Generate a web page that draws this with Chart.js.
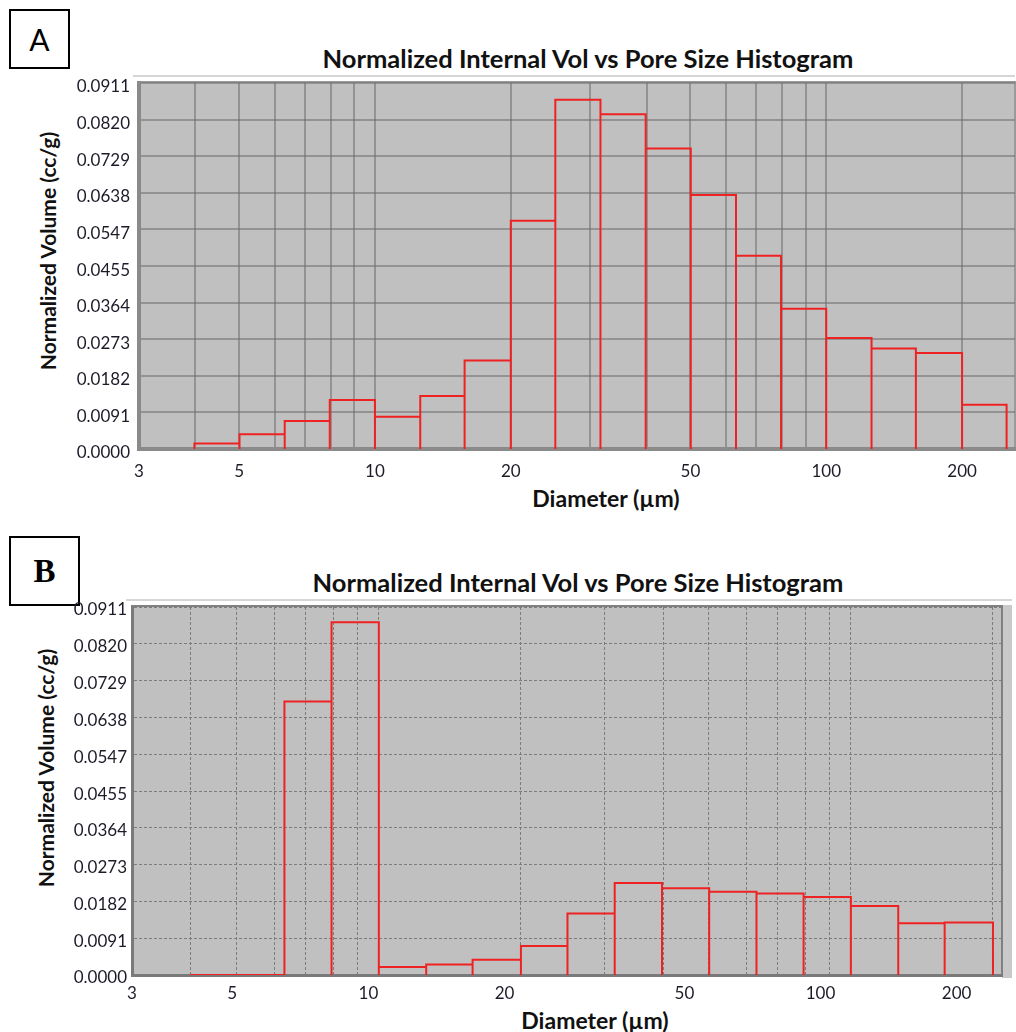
<!DOCTYPE html>
<html lang="en">
<head>
<meta charset="UTF-8">
<title>Normalized Internal Vol vs Pore Size Histogram</title>
<script src="https://cdn.jsdelivr.net/npm/chart.js"></script>
<style>
  body { margin: 0; background: #fff; font-family: Lato, sans-serif; }
  #page { position: relative; width: 1016px; height: 1032px; overflow: hidden; }
  canvas { position: absolute; left: 0; }
  .tag { position: absolute; box-sizing: border-box; border: 2px solid #000; text-align: center; color: #000; }
  .txt { position: absolute; white-space: nowrap; font-weight: bold; color: #111; transform: translate(-50%, -50%); }
  .ytitle { transform: translate(-50%, -50%) rotate(-90deg); }
</style>
</head>
<body>
<div id="page">
  <div class="tag" style="left:9px; top:9px; width:61px; height:60px; font: 30px/56px Lato, sans-serif;">A</div>
  <div class="txt" style="left:588px; top:58px; font-size:25.5px;">Normalized Internal Vol vs Pore Size Histogram</div>
  <div class="txt ytitle" style="left:47px; top:251px; font-size:21px;">Normalized Volume (cc/g)</div>
  <div class="txt" style="left:606px; top:498px; font-size:23px;">Diameter (µm)</div>
  <canvas id="chartA" width="1016" height="515" style="top:0"></canvas>

  <div class="tag" style="left:9px; top:536px; width:71px; height:70px; font: bold 33px/66px 'Liberation Serif', serif;">B</div>
  <div class="txt" style="left:578px; top:582px; font-size:25.5px;">Normalized Internal Vol vs Pore Size Histogram</div>
  <div class="txt ytitle" style="left:45px; top:768px; font-size:21px;">Normalized Volume (cc/g)</div>
  <div class="txt" style="left:595px; top:1020px; font-size:23px;">Diameter (µm)</div>
  <canvas id="chartB" width="1016" height="512" style="top:520px"></canvas>
</div>
<script>
// bin edges (µm) and normalized volume per bin (cc/g)
var binEdgesA = [3.98, 5.01, 6.31, 7.94, 10.0, 12.6, 15.8, 20.0, 25.1, 31.6, 39.8, 50.1, 63.1, 79.4, 100, 126, 158, 200, 251];
var volumeA = [0.0014, 0.0037, 0.0070, 0.0122, 0.0080, 0.0132, 0.0220, 0.0568, 0.0869, 0.0833, 0.0748, 0.0632, 0.0481, 0.0349, 0.0276, 0.0250, 0.0239, 0.0110];

var binEdgesB = [3.98, 5.01, 6.31, 7.94, 10.0, 12.6, 15.8, 20.0, 25.1, 31.6, 39.8, 50.1, 63.1, 79.4, 100, 126, 158, 200];
var volumeB = [0.0000, 0.0000, 0.0677, 0.0873, 0.0020, 0.0026, 0.0038, 0.0072, 0.0152, 0.0228, 0.0215, 0.0206, 0.0202, 0.0193, 0.0171, 0.0128, 0.0130];

var yTickValues = [0.0000, 0.0091, 0.0182, 0.0273, 0.0364, 0.0455, 0.0547, 0.0638, 0.0729, 0.0820, 0.0911];
var xGridValues = [3, 4, 5, 6, 7, 8, 9, 10, 20, 30, 40, 50, 60, 70, 80, 90, 100, 200];
var xTickLabels = [3, 5, 10, 20, 50, 100, 200];

Chart.defaults.font.family = 'Lato, sans-serif';
Chart.defaults.color = '#1c1c28';

// histogram outline: up each edge, across the top, back down
function outline(edges, values) {
    var pts = [];
    for (var i = 0; i < values.length; i++) {
        pts.push({x: edges[i], y: 0});
        pts.push({x: edges[i], y: values[i]});
        pts.push({x: edges[i + 1], y: values[i]});
        pts.push({x: edges[i + 1], y: 0});
    }
    return pts;
}

var plotFrame = {
    id: 'plotFrame',
    beforeDraw: function(chart, args, o) {
        var ctx = chart.ctx, a = chart.chartArea;
        ctx.save();
        ctx.fillStyle = '#d6d6d6';
        ctx.fillRect(a.left - 6, a.top - 8, a.right - a.left + 6 + o.strip, 2);
        if (o.strip) {
            ctx.fillStyle = '#c9c9c9';
            ctx.fillRect(a.right, a.top - 2, o.strip, a.bottom - a.top + 5);
        }
        ctx.fillStyle = '#c0c0c0';
        ctx.fillRect(a.left, a.top, a.right - a.left, a.bottom - a.top);
        ctx.strokeStyle = o.edge;
        ctx.lineWidth = 2;
        ctx.strokeRect(a.left, a.top - 1, a.right - a.left, a.bottom - a.top + 1);
        ctx.restore();
    }
};

function tickFont() { return { size: 17 }; }

function makeChart(id, edges, values, s) {
    var scales = {
        x: {
            type: 'logarithmic',
            min: 3,
            max: s.xMax,
            weight: 0,
            afterFit: function(sc) { sc.height = s.labelMax ? 0 : s.xHeight; },
            afterBuildTicks: function(sc) { sc.ticks = xGridValues.map(function(v) { return {value: v}; }); },
            ticks: {
                display: !s.labelMax,
                autoSkip: false,
                maxRotation: 0,
                padding: s.xPad,
                font: tickFont(),
                callback: function(v) { return xTickLabels.indexOf(v) >= 0 ? String(v) : ''; }
            },
            grid: { color: s.grid, lineWidth: s.gridWidth, drawTicks: false },
            border: { display: true, color: s.axis, width: s.axisWidth, dash: s.dash }
        },
        y: {
            min: 0,
            max: 0.0911,
            afterFit: function(sc) { sc.width = s.yWidth; },
            afterBuildTicks: function(sc) { sc.ticks = yTickValues.map(function(v) { return {value: v}; }); },
            ticks: {
                padding: s.yPad,
                labelOffset: s.yOffset,
                font: tickFont(),
                callback: function(v) { return v.toFixed(4); }
            },
            grid: { color: s.grid, lineWidth: s.gridWidth, drawTicks: false },
            border: { display: true, color: s.axis, width: s.axisWidth, dash: s.dash }
        }
    };
    if (s.labelMax) {
        // panel B prints its diameter labels on a wider 3–252 µm scale than its grid
        scales.xLabels = {
            type: 'logarithmic',
            position: 'bottom',
            weight: 1,
            min: 3,
            max: s.labelMax,
            afterFit: function(sc) { sc.height = s.xHeight; },
            afterBuildTicks: function(sc) { sc.ticks = xTickLabels.map(function(v) { return {value: v}; }); },
            ticks: {
                autoSkip: false,
                maxRotation: 0,
                padding: s.xPad,
                font: tickFont(),
                callback: function(v) { return String(v); }
            },
            grid: { display: false, drawTicks: false },
            border: { display: false }
        };
    }
    return new Chart(document.getElementById(id), {
        type: 'line',
        data: {
            datasets: [{
                data: outline(edges, values),
                borderColor: '#ee2222',
                borderWidth: 2,
                pointRadius: 0,
                tension: 0,
                fill: false
            }]
        },
        plugins: [plotFrame],
        options: {
            responsive: false,
            animation: false,
            layout: { padding: { top: s.top, right: s.right, left: 0, bottom: 0 } },
            plugins: {
                legend: { display: false },
                tooltip: { enabled: false },
                plotFrame: { strip: s.strip, edge: s.edge }
            },
            scales: scales
        }
    });
}

makeChart('chartA', binEdgesA, volumeA, {
    top: 83, right: 1, xMax: 262, xHeight: 66, yWidth: 139,
    xPad: 12, yPad: 9, yOffset: 4, strip: 0,
    grid: 'rgba(110,110,110,0.55)', gridWidth: 2, dash: [],
    axis: '#8a8a8a', axisWidth: 4, edge: '#9a9a9a'
});

makeChart('chartB', binEdgesB, volumeB, {
    top: 87, right: 14, xMax: 209, labelMax: 252, xHeight: 57, yWidth: 132,
    xPad: 8, yPad: 5, yOffset: 3, strip: 10,
    grid: '#7c7c7c', gridWidth: 1, dash: [3, 2],
    axis: '#7a7a7a', axisWidth: 3, edge: '#808080'
});
</script>
</body>
</html>
